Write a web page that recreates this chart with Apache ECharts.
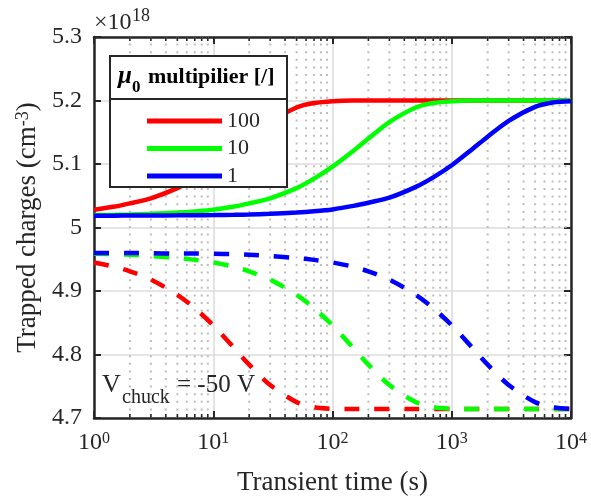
<!DOCTYPE html>
<html>
<head>
<meta charset="utf-8">
<script src="https://cdn.jsdelivr.net/npm/echarts@6/dist/echarts.min.js"></script>
<style>
  html, body { margin: 0; padding: 0; background: #fff; }
  #chart { width: 591px; height: 501px; }
</style>
</head>
<body>
<div id="chart"></div>
<script>
// Transient time samples (s)
const times = [1, 1.5, 2, 3, 5, 7, 10, 15, 20, 30, 50, 70, 100, 150, 200, 300, 500, 700, 1000, 1500, 2000, 3000, 5000, 7000, 10000];

// Trapped charges (x1e18 cm^-3), solid curves, per mu0 multiplier
const solid100 = [5.028, 5.033, 5.038, 5.046, 5.062, 5.077, 5.096, 5.121, 5.140, 5.166, 5.189, 5.196, 5.199, 5.2, 5.2, 5.2, 5.2, 5.2, 5.2, 5.2, 5.2, 5.2, 5.2, 5.2, 5.2];
const solid10  = [5.0195, 5.020, 5.0205, 5.0215, 5.0235, 5.0254, 5.028, 5.033, 5.038, 5.046, 5.062, 5.077, 5.096, 5.121, 5.140, 5.166, 5.189, 5.196, 5.199, 5.2, 5.2, 5.2, 5.2, 5.2, 5.2];
const solid1   = [5.0185, 5.0187, 5.0188, 5.019, 5.0191, 5.0193, 5.0195, 5.020, 5.0205, 5.0215, 5.0235, 5.0255, 5.0285, 5.034, 5.039, 5.047, 5.064, 5.079, 5.098, 5.124, 5.143, 5.168, 5.190, 5.197, 5.199];

// Dashed curves
const dashed100 = [4.945, 4.938, 4.931, 4.918, 4.894, 4.873, 4.846, 4.810, 4.784, 4.752, 4.725, 4.717, 4.7145, 4.714, 4.714, 4.714, 4.714, 4.714, 4.714, 4.714, 4.714, 4.714, 4.714, 4.714, 4.714];
const dashed10  = [4.9585, 4.958, 4.957, 4.955, 4.952, 4.949, 4.945, 4.938, 4.931, 4.918, 4.894, 4.873, 4.846, 4.810, 4.784, 4.752, 4.725, 4.717, 4.7145, 4.714, 4.714, 4.714, 4.714, 4.714, 4.714];
const dashed1   = [4.960, 4.960, 4.960, 4.9595, 4.959, 4.959, 4.9585, 4.958, 4.957, 4.955, 4.952, 4.949, 4.945, 4.938, 4.931, 4.918, 4.894, 4.873, 4.846, 4.810, 4.784, 4.752, 4.725, 4.717, 4.7145];

const multipliers = ['100', '10', '1'];
const colors = ['#ff0000', '#00ff00', '#0000ff'];

const xRange = [1, 10000];
const yRange = [4.7, 5.3];
const yStep = 0.1;

// minor positions on the log axis: 2..9 within each decade
const minorX = [];
for (let d = 1; d < xRange[1]; d *= 10) {
  for (let k = 2; k <= 9; k++) minorX.push(d * k);
}

const FONT = 'Liberation Serif';
const INK = '#262626';

const pairs = arr => times.map((t, i) => [t, arr[i]]);

function solidSeries(name, data, color) {
  return {
    name, type: 'line', data: pairs(data), smooth: 0.3, showSymbol: false,
    lineStyle: { color, width: 4.5 }, itemStyle: { color }, z: 3, animation: false
  };
}
function dashedSeries(name, data, color) {
  return {
    name, type: 'line', data: pairs(data), smooth: 0.3, showSymbol: false,
    lineStyle: { color, width: 4.5, type: [15, 15], cap: 'butt' }, itemStyle: { color }, z: 3, animation: false
  };
}

const chart = echarts.init(document.getElementById('chart'), null, { renderer: 'canvas' });

const supRich = {
  b: { fontFamily: FONT, fontSize: 24, color: INK, lineHeight: 24, padding: [6, 0, 0, 0], verticalAlign: 'bottom' },
  s: { fontFamily: FONT, fontSize: 16, color: INK, lineHeight: 16, verticalAlign: 'top' }
};

const option = {
  backgroundColor: '#ffffff',
  animation: false,
  grid: { left: 93, right: 20, top: 37, bottom: 83, containLabel: false },
  xAxis: [{
    type: 'log', logBase: 10, min: xRange[0], max: xRange[1],
    name: 'Transient time (s)', nameLocation: 'middle', nameGap: 51,
    nameTextStyle: { fontFamily: FONT, fontSize: 27, color: INK },
    axisLine: { show: true, lineStyle: { color: INK, width: 2.5 } },
    axisTick: { show: true, inside: true, length: 7, lineStyle: { color: INK, width: 2 } },
    axisLabel: {
      margin: 13,
      formatter: v => '{b|10}{s|' + Math.round(Math.log10(v)) + '}',
      rich: supRich
    },
    splitLine: { show: true, lineStyle: { color: '#dcdcdc', width: 1.6 } }
  }, {
    type: 'log', logBase: 10, min: xRange[0], max: xRange[1], position: 'top',
    axisLine: { show: true, lineStyle: { color: INK, width: 2.5 } },
    axisTick: { show: true, inside: true, length: 7, lineStyle: { color: INK, width: 2 } },
    axisLabel: { show: false }, splitLine: { show: false }
  }],
  yAxis: [{
    type: 'value', min: yRange[0], max: yRange[1], interval: yStep,
    name: '{a|Trapped charges (cm}{s|-3}{a|)}', nameLocation: 'middle', nameGap: 53, nameRotate: 90,
    nameTextStyle: {
      rich: {
        a: { fontFamily: FONT, fontSize: 27, color: INK, lineHeight: 27, padding: [6, 0, 0, 0], verticalAlign: 'bottom' },
        s: { fontFamily: FONT, fontSize: 18, color: INK, lineHeight: 18, verticalAlign: 'top' }
      }
    },
    axisLine: { show: true, lineStyle: { color: INK, width: 2.5 } },
    axisTick: { show: true, inside: true, length: 7, lineStyle: { color: INK, width: 2 } },
    axisLabel: {
      margin: 12, fontFamily: FONT, fontSize: 24, color: INK,
      formatter: v => String(+v.toFixed(1))
    },
    splitLine: { show: true, lineStyle: { color: '#dcdcdc', width: 1.6 } }
  }, {
    type: 'value', min: yRange[0], max: yRange[1], interval: yStep, position: 'right',
    axisLine: { show: true, lineStyle: { color: INK, width: 2.5 } },
    axisTick: { show: true, inside: true, length: 7, lineStyle: { color: INK, width: 2 } },
    axisLabel: { show: false }, splitLine: { show: false }
  }],
  legend: {
    data: multipliers, orient: 'vertical', left: 142, top: 105,
    itemWidth: 75, itemHeight: 5, itemGap: 5.5, icon: 'rect', selectedMode: false,
    textStyle: { fontFamily: FONT, fontSize: 22, color: INK, lineHeight: 22 },
    z: 20
  },
  graphic: [
    { type: 'rect', z: 10, shape: { x: 110, y: 56, width: 177, height: 131 },
      style: { fill: '#ffffff', stroke: INK, lineWidth: 2 } },
    { type: 'line', z: 11, shape: { x1: 110, y1: 99, x2: 287, y2: 99 },
      style: { stroke: INK, lineWidth: 2 } },
    { type: 'text', z: 21, x: 118, y: 77,
      style: { text: 'μ', font: 'italic bold 25px "Liberation Serif"', fill: '#000', textVerticalAlign: 'middle' } },
    { type: 'text', z: 21, x: 132, y: 88,
      style: { text: '0', font: 'bold 17px "Liberation Serif"', fill: '#000', textVerticalAlign: 'middle' } },
    { type: 'text', z: 21, x: 148, y: 77,
      style: { text: 'multipilier [/]', font: 'bold 22px "Liberation Serif"', fill: '#000', textVerticalAlign: 'middle' } },
    // axis multiplier
    { type: 'text', z: 21, x: 94, y: 23,
      style: { text: '×10', font: '24px "Liberation Serif"', fill: INK, textVerticalAlign: 'middle' } },
    { type: 'text', z: 21, x: 132, y: 16,
      style: { text: '18', font: '18px "Liberation Serif"', fill: INK, textVerticalAlign: 'middle' } },
    // bias annotation
    { type: 'text', z: 21, x: 102, y: 385,
      style: { text: 'V', font: '26px "Liberation Serif"', fill: INK, textVerticalAlign: 'middle' } },
    { type: 'text', z: 21, x: 122, y: 398,
      style: { text: 'chuck', font: '20px "Liberation Serif"', fill: INK, textVerticalAlign: 'middle' } },
    { type: 'text', z: 21, x: 177, y: 385,
      style: { text: '= -50 V', font: '25px "Liberation Serif"', fill: INK, textVerticalAlign: 'middle' } }
  ],
  series: [
    // dotted minor grid
    {
      name: 'minor-grid', type: 'custom', silent: true, z: 1,
      data: minorX.map(v => [v, yRange[0]]),
      encode: { x: 0, y: 1 },
      renderItem: (params, api) => {
        const b = api.coord([api.value(0), yRange[0]]);
        const t = api.coord([api.value(0), yRange[1]]);
        return { type: 'line', shape: { x1: b[0], y1: b[1], x2: t[0], y2: t[1] },
          style: { stroke: '#bdbdbd', lineWidth: 2, lineDash: [2, 5.6] } };
      }
    },
    // minor ticks on bottom and top edges
    {
      name: 'minor-ticks', type: 'custom', silent: true, z: 6, clip: false,
      data: minorX.map(v => [v, yRange[0]]),
      encode: { x: 0, y: 1 },
      renderItem: (params, api) => {
        const b = api.coord([api.value(0), yRange[0]]);
        const t = api.coord([api.value(0), yRange[1]]);
        return {
          type: 'group', children: [
            { type: 'line', shape: { x1: b[0], y1: b[1], x2: b[0], y2: b[1] - 4 }, style: { stroke: INK, lineWidth: 1.6 } },
            { type: 'line', shape: { x1: t[0], y1: t[1], x2: t[0], y2: t[1] + 4 }, style: { stroke: INK, lineWidth: 1.6 } }
          ]
        };
      }
    },
    solidSeries('100', solid100, colors[0]),
    solidSeries('10', solid10, colors[1]),
    solidSeries('1', solid1, colors[2]),
    dashedSeries('100 dashed', dashed100, colors[0]),
    dashedSeries('10 dashed', dashed10, colors[1]),
    dashedSeries('1 dashed', dashed1, colors[2])
  ]
};

chart.setOption(option);
</script>
</body>
</html>
